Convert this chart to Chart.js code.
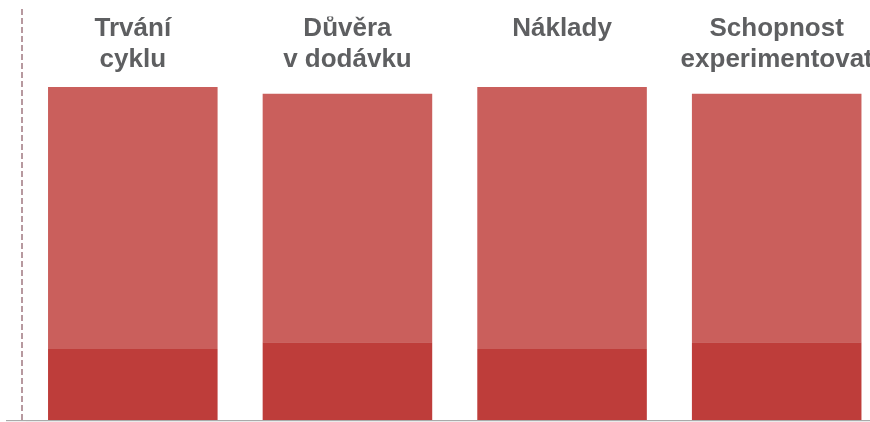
<!DOCTYPE html>
<html>
<head>
<meta charset="utf-8">
<script src="https://cdn.jsdelivr.net/npm/chart.js@4"></script>
<style>
  html, body { margin: 0; padding: 0; background: #fff; overflow: hidden; }
  #wrap { width: 890px; height: 422px; }
</style>
</head>
<body>
<div id="wrap"><canvas id="chart"></canvas></div>
<script>
// kategorie (popisky nahoře)
const categories = [['Trvání', 'cyklu'], ['Důvěra', 'v dodávku'], ['Náklady'], ['Schopnost', 'experimentovat']];
// spodní (tmavá) a horní (světlá) část sloupců
const darkValues = [21, 23, 21, 23];
const lightValues = [77, 73, 77, 73];

// přerušovaná svislá čára vlevo
const dashedLine = {
    id: 'dashedLine',
    afterDraw(chart) {
        const c = chart.ctx;
        const x = chart.chartArea.left - 3.5;
        c.save();
        c.strokeStyle = '#b7999f';
        c.lineWidth = 2;
        c.setLineDash([6, 3]);
        c.beginPath();
        c.moveTo(x, 9);
        c.lineTo(x, chart.chartArea.bottom);
        c.stroke();
        c.restore();
    }
};

const ctx = document.getElementById('chart').getContext('2d');
new Chart(ctx, {
    type: 'bar',
    data: {
        labels: categories,
        datasets: [{
            data: darkValues,
            backgroundColor: '#be3d3a',
            barPercentage: 0.79,
            categoryPercentage: 1
        }, {
            data: lightValues,
            backgroundColor: '#ca5f5c',
            barPercentage: 0.79,
            categoryPercentage: 1
        }]
    },
    options: {
        responsive: true,
        maintainAspectRatio: false,
        animation: false,
        layout: { padding: { top: 16.4, left: 6, right: 6, bottom: 1.5 } },
        plugins: { legend: { display: false }, tooltip: { enabled: false } },
        scales: {
            x: {
                stacked: true,
                position: 'top',
                grid: { display: false },
                border: { display: false },
                ticks: {
                    color: '#5e5f61',
                    font: { family: 'Liberation Sans', size: 26, weight: 'bold', lineHeight: 1.18 },
                    padding: -2.8,
                    crossAlign: 'far',
                    maxRotation: 0,
                    autoSkip: false
                }
            },
            y: {
                stacked: true,
                min: 0,
                max: 100,
                border: { display: false },
                ticks: { display: false },
                grid: {
                    tickLength: 19.5,
                    lineWidth: 1.2,
                    color: c => c.tick && c.tick.value === 0 ? '#aaaaaa' : 'rgba(0,0,0,0)'
                }
            }
        }
    },
    plugins: [dashedLine]
});
</script>
</body>
</html>
